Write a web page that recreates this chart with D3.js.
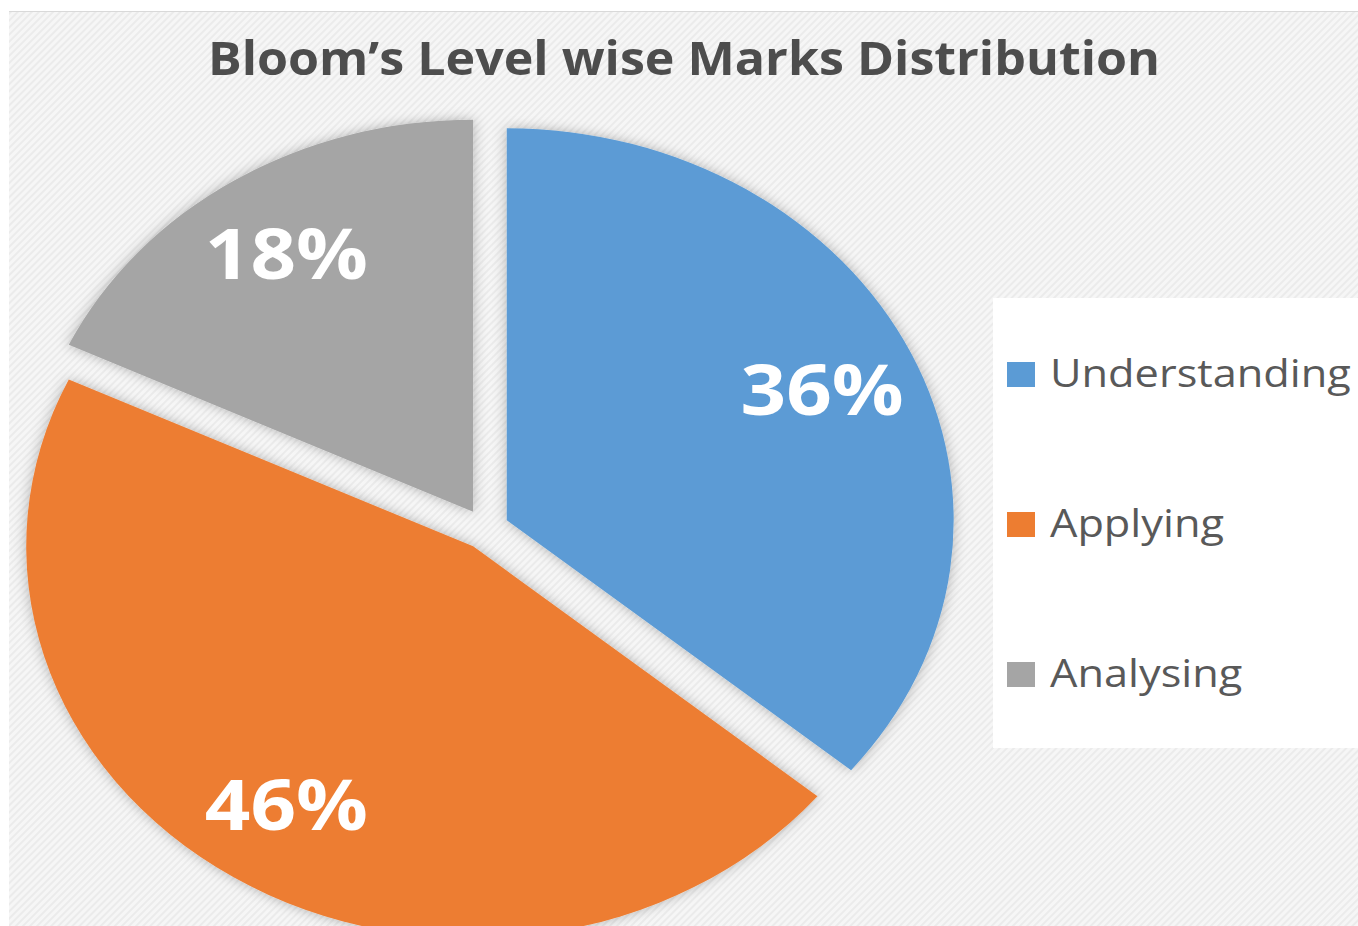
<!DOCTYPE html>
<html>
<head>
<meta charset="utf-8">
<script src="https://cdn.jsdelivr.net/npm/d3@7"></script>
<style>
  html, body { margin: 0; padding: 0; background: #fff; }
  svg { display: block; }
</style>
</head>
<body>
<div id="chart"></div>
<script>
// values
const categories = ['Understanding', 'Applying', 'Analysing'];
const shares = [36, 46, 18];
const sliceColors = ['#5b9bd5', '#ed7d31', '#a5a5a5'];
const title = 'Bloom\u2019s Level wise Marks Distribution';

const W = 1358, H = 926;
const SX = 1.14;               // the original picture is stretched sideways
const cx = 426, cy = 529, r = 392;
const explode = 20.5;

const svg = d3.select('#chart').append('svg').attr('width', W).attr('height', H);
const defs = svg.append('defs');

const pat = defs.append('pattern').attr('id', 'hatch').attr('patternUnits', 'userSpaceOnUse')
    .attr('width', 5).attr('height', 5).attr('patternTransform', 'rotate(45)');
pat.append('rect').attr('width', 5).attr('height', 5).attr('fill', '#f6f6f6');
pat.append('rect').attr('width', 2).attr('height', 5).attr('fill', '#ebebeb');

const shadow = defs.append('filter').attr('id', 'shadow').attr('x', '-20%').attr('y', '-20%').attr('width', '140%').attr('height', '140%');
shadow.append('feDropShadow').attr('dx', 0).attr('dy', 0).attr('stdDeviation', 6)
    .attr('flood-color', '#000').attr('flood-opacity', 0.28);

// chart area background
svg.append('rect').attr('x', 9).attr('y', 11).attr('width', W - 9).attr('height', H - 11).attr('fill', 'url(#hatch)');
svg.append('line').attr('x1', 9).attr('x2', W).attr('y1', 11.5).attr('y2', 11.5).attr('stroke', '#d9d9d9');

const root = svg.append('g').attr('transform', `scale(${SX},1)`);

root.append('text')
    .attr('x', 684 / SX).attr('y', 75)
    .attr('text-anchor', 'middle')
    .attr('textLength', 952 / SX).attr('lengthAdjust', 'spacingAndGlyphs')
    .style('font-family', '"Open Sans", sans-serif').style('font-weight', 700).style('font-size', '46px')
    .attr('fill', '#4d4d4d')
    .text(title);

const pie = d3.pie().sort(null).value(d => d);
const arcs = pie(shares);
const arc = d3.arc().innerRadius(0).outerRadius(r);
const labelArc = d3.arc().innerRadius(r * 0.78).outerRadius(r * 0.78);

function shift(d) {
    const a = (d.startAngle + d.endAngle) / 2;
    return [Math.sin(a) * explode, -Math.cos(a) * explode];
}

const pieG = root.append('g').attr('transform', `translate(${cx},${cy})`);

pieG.selectAll('path.slice').data(arcs).enter().append('path')
    .attr('class', 'slice')
    .attr('transform', d => `translate(${shift(d)})`)
    .attr('d', arc)
    .attr('fill', (d, i) => sliceColors[i])
    .attr('filter', 'url(#shadow)');

pieG.selectAll('text.lbl').data(arcs).enter().append('text')
    .attr('class', 'lbl')
    .attr('transform', d => {
        const [dx, dy] = shift(d);
        const [lx, ly] = labelArc.centroid(d);
        return `translate(${lx + dx},${ly + dy})`;
    })
    .attr('text-anchor', 'middle').attr('dy', '0.36em')
    .style('font-family', '"Open Sans", sans-serif').style('font-weight', 700).style('font-size', '70px')
    .attr('fill', '#fff')
    .text(d => d.value + '%');

// legend
const legend = root.append('g');
legend.append('rect').attr('x', 993 / SX).attr('y', 298).attr('width', (W - 993) / SX).attr('height', 450).attr('fill', '#fff');

const ly = d3.scalePoint().domain(categories).range([374.5, 674.5]);
const item = legend.selectAll('g.item').data(categories).enter().append('g')
    .attr('class', 'item').attr('transform', d => `translate(0,${ly(d)})`);
item.append('rect').attr('x', 1007 / SX).attr('y', -12.5).attr('width', 28 / SX).attr('height', 25)
    .attr('fill', (d, i) => sliceColors[i]);
item.append('text').attr('x', 1050 / SX).attr('y', 12.5)
    .style('font-family', '"Open Sans", sans-serif').style('font-size', '38px')
    .attr('fill', '#595959')
    .text(d => d);
</script>
</body>
</html>
